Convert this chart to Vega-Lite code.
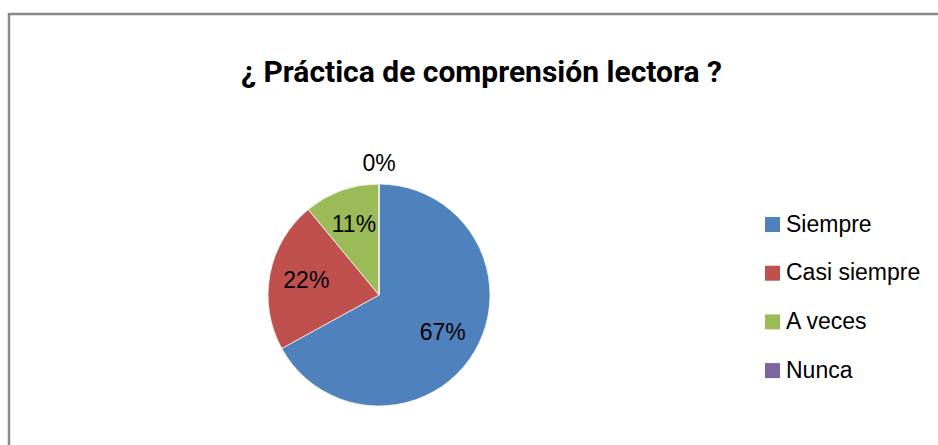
{
  "$schema": "https://vega.github.io/schema/vega-lite/v6.json",
  "autosize": "none",
  "width": 935,
  "height": 437,
  "padding": {"left": 9, "top": 14, "right": -6, "bottom": -6},
  "background": "white",
  "view": {"stroke": "#8a8a8a", "strokeWidth": 2.5},
  "config": {
    "view": {"stroke": "#8a8a8a", "strokeWidth": 2.5}
  },
  "title": {
    "text": "¿ Práctica de comprensión lectora ?",
    "font": "Roboto",
    "fontSize": 30,
    "fontWeight": "bold",
    "color": "#000000",
    "anchor": "middle",
    "baseline": "alphabetic",
    "offset": -98,
    "dx": 5
  },
  "data": {
    "values": [
      {"respuesta": "Siempre", "porcentaje": 0.67},
      {"respuesta": "Casi siempre", "porcentaje": 0.22},
      {"respuesta": "A veces", "porcentaje": 0.11},
      {"respuesta": "Nunca", "porcentaje": 0}
    ]
  },
  "encoding": {
    "theta": {"field": "porcentaje", "type": "quantitative", "stack": true},
    "order": {"field": "porcentaje", "type": "quantitative", "sort": "descending"},
    "color": {
      "field": "respuesta",
      "type": "nominal",
      "sort": ["Siempre", "Casi siempre", "A veces", "Nunca"],
      "scale": {
        "domain": ["Siempre", "Casi siempre", "A veces", "Nunca"],
        "range": ["#4F81BD", "#C0504D", "#9BBB59", "#8064A2"]
      },
      "legend": {
        "title": null,
        "orient": "none",
        "legendX": 752,
        "legendY": 199,
        "symbolType": "square",
        "symbolSize": 225,
        "symbolStrokeWidth": 0,
        "labelFont": "Liberation Sans",
        "labelFontSize": 23,
        "labelColor": "#000000",
        "labelOffset": 2,
        "rowPadding": 24.7,
        "labelLimit": 300
      }
    }
  },
  "layer": [
    {
      "mark": {"type": "arc", "radius": 111, "xOffset": -97.5, "yOffset": 62.5, "stroke": "#ffffff", "strokeWidth": 0.7}
    },
    {
      "transform": [{"filter": "datum.porcentaje > 0"}],
      "mark": {"type": "text", "radius": 74, "xOffset": -97.5, "yOffset": 62.5, "font": "Liberation Sans", "fontSize": 23, "color": "#000000", "baseline": "middle", "align": "center"},
      "encoding": {
        "text": {"field": "porcentaje", "type": "quantitative", "format": ".0%"},
        "color": {"value": "#000000"}
      }
    },
    {
      "transform": [{"filter": "datum.porcentaje == 0"}],
      "mark": {"type": "text", "radius": 131, "xOffset": -97.5, "yOffset": 62.5, "font": "Liberation Sans", "fontSize": 23, "color": "#000000", "baseline": "middle", "align": "center"},
      "encoding": {
        "text": {"field": "porcentaje", "type": "quantitative", "format": ".0%"},
        "color": {"value": "#000000"}
      }
    }
  ]
}
